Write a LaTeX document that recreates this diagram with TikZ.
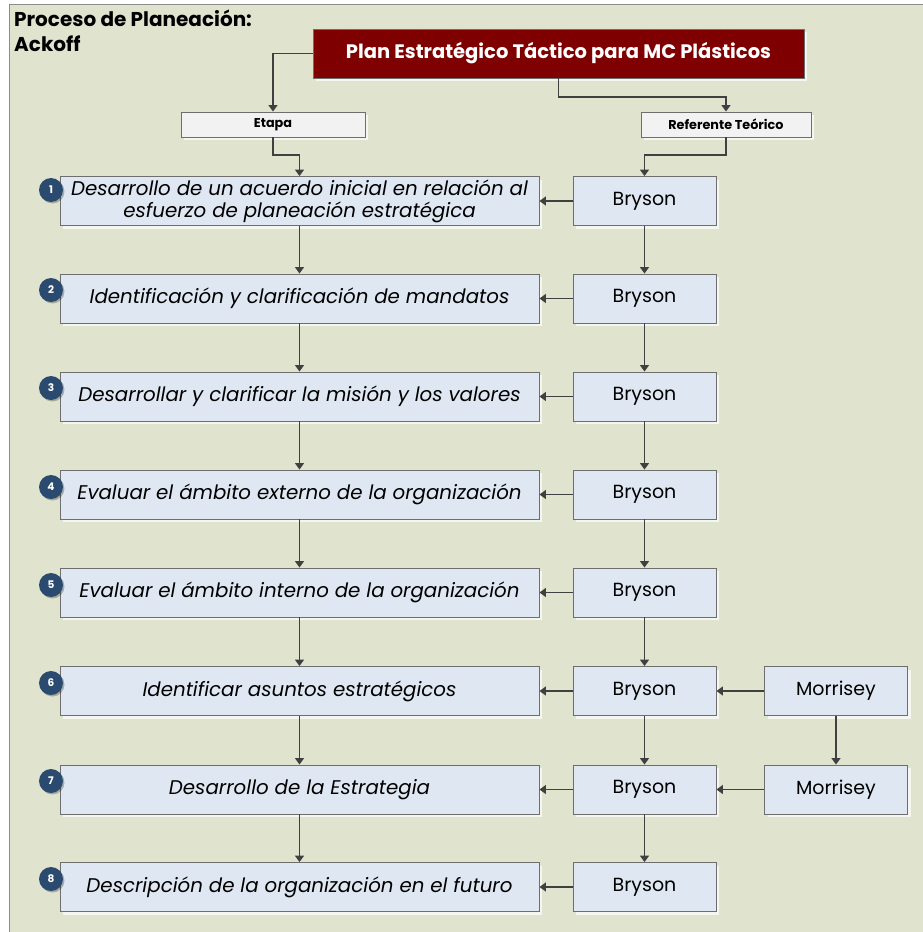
\documentclass[tikz,border=0pt]{standalone}
\usepackage{fontspec}
\setmainfont{Poppins}
\usetikzlibrary{arrows.meta,shadows}
\definecolor{pagebg}{HTML}{E0E4CE}
\definecolor{framegray}{HTML}{8C8C8C}
\definecolor{boxfill}{HTML}{DFE8F2}
\definecolor{boxline}{HTML}{6E6E6E}
\definecolor{headred}{HTML}{7F0000}
\definecolor{wire}{HTML}{404040}
\definecolor{badge}{HTML}{2B4A6F}
\tikzset{
  soft/.style={drop shadow={shadow xshift=3pt,shadow yshift=-3pt,fill=white,opacity=0.7}},
  stagebox/.style={draw=boxline,fill=boxfill,line width=0.9pt,minimum width=479pt,minimum height=49pt,
    align=center,font=\fontsize{19.8}{22}\selectfont\itshape,soft,inner sep=1pt},
  refbox/.style={draw=boxline,fill=boxfill,line width=0.9pt,minimum width=143pt,minimum height=49pt,
    font=\fontsize{19}{22}\selectfont,soft},
  labelbox/.style={draw=boxline,fill=gray!10,line width=0.9pt,minimum height=25pt,
    font=\fontsize{12.8}{14}\selectfont\bfseries,soft},
  numdot/.style={circle,fill=badge,minimum size=24pt,inner sep=0pt,text=white,
    font=\fontsize{10.5}{12}\selectfont\bfseries,drop shadow={shadow xshift=1.5pt,shadow yshift=-1.5pt,fill=black,opacity=0.25}},
  link/.style={draw=wire,line width=1.5pt,-{Triangle[width=9pt,length=6.5pt]}},
}
\begin{document}
\begin{tikzpicture}[x=1pt,y=-1pt]
\useasboundingbox (0,0) rectangle (923,932);
\fill[white] (0,0) rectangle (923,932);
\fill[pagebg] (9,4) rectangle (923,932);
\draw[framegray,line width=1pt] (9,932) -- (9,4) -- (923,4);

% title
\node[anchor=north west,align=left,font=\fontsize{20}{25}\selectfont\bfseries,inner sep=0pt] (title) at (14,10)
  {Proceso de Planeación:\\Ackoff};

% header
\node[fill=headred,draw=boxline,line width=0.6pt,minimum width=491pt,minimum height=49pt,text=white,
  font=\fontsize{19.5}{22}\selectfont\bfseries,soft] (plan) at (558.5,53.5) {Plan Estratégico Táctico para MC Plásticos};
\node[labelbox,minimum width=184pt] (etapa) at (273,124.5) {Etapa};
\node[labelbox,minimum width=170pt] (ref) at (726,124.5) {Referente Teórico};

% stage column
\node[stagebox] (s1) at (299.5,201) {Desarrollo de un acuerdo inicial en relación al\\esfuerzo de planeación estratégica};
\node[stagebox] (s2) at (299.5,298.5) {Identificación y clarificación de mandatos};
\node[stagebox] (s3) at (299.5,396.5) {Desarrollar y clarificar la misión y los valores};
\node[stagebox] (s4) at (299.5,494.5) {Evaluar el ámbito externo de la organización};
\node[stagebox] (s5) at (299.5,592.5) {Evaluar el ámbito interno de la organización};
\node[stagebox] (s6) at (299.5,691) {Identificar asuntos estratégicos};
\node[stagebox] (s7) at (299.5,789.5) {Desarrollo de la Estrategia};
\node[stagebox] (s8) at (299.5,887) {Descripción de la organización en el futuro};

% reference column
\foreach \i/\y in {1/201,2/298.5,3/396.5,4/494.5,5/592.5,6/691,7/789.5,8/887}
  \node[refbox] (b\i) at (644.5,\y) {Bryson};
\node[refbox] (m6) at (836,691) {Morrisey};
\node[refbox] (m7) at (836,789.5) {Morrisey};

% step numbers
\foreach \i/\y in {1/190,2/290,3/388,4/487,5/585,6/683,7/781,8/879}
  \node[numdot] (n\i) at (51,\y) {\i};

% header connectors
\draw[link] (plan.west) -| (etapa.north);
\draw[link] (plan.south) |- (558.5,97) -| (ref.north);
\draw[link] (etapa.south) |- (299.5,155) -| (s1.north);
\draw[link] (ref.south) |- (644.5,155) -| (b1.north);

% vertical flow
\foreach \i [evaluate=\i as \j using int(\i+1)] in {1,...,7} {
  \draw[link] (s\i.south) -- (s\j.north);
  \draw[link] (b\i.south) -- (b\j.north);
}
\foreach \i in {1,...,8}
  \draw[link] (b\i.west) -- (s\i.east);
\draw[link] (m6.west) -- (b6.east);
\draw[link] (m7.west) -- (b7.east);
\draw[link] (m6.south) -- (m7.north);
\end{tikzpicture}
\end{document}
